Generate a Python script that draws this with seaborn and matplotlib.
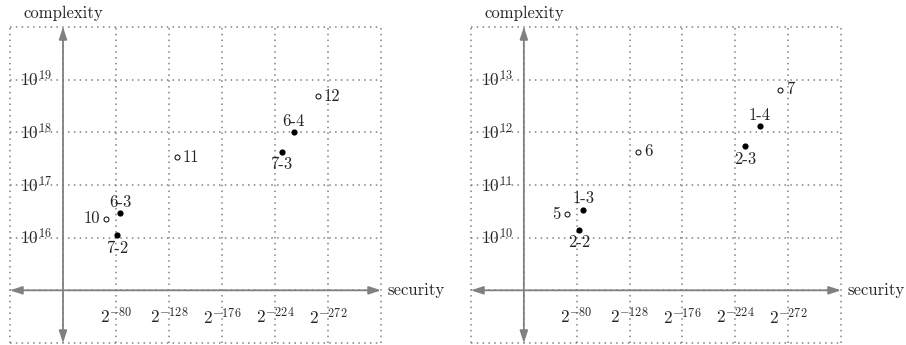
import matplotlib
matplotlib.use('Agg')
import matplotlib.pyplot as plt
import seaborn as sns

# security exponents (bits) and complexity for each panel
left_filled_labels = ['6-3', '7-2', '7-3', '6-4']
left_filled_sec = [84, 81, 230, 241]
left_filled_cplx = [2.9e16, 1.1e16, 4.3e17, 1.0e18]
left_open_labels = ['10', '11', '12']
left_open_sec = [71, 135, 263]
left_open_cplx = [2.3e16, 3.4e17, 4.9e18]

right_filled_labels = ['1-3', '2-2', '2-3', '1-4']
right_filled_sec = [86, 82, 233, 246]
right_filled_cplx = [3.4e10, 1.4e10, 5.4e11, 1.3e12]
right_open_labels = ['5', '6', '7']
right_open_sec = [71, 136, 265]
right_open_cplx = [2.8e10, 4.3e11, 6.5e12]

sec_ticks = [80, 128, 176, 224, 272]
left_exps = [16, 17, 18, 19]
right_exps = [10, 11, 12, 13]

sns.set_theme(style='white')
plt.rcParams['font.family'] = ['cmr10', 'DejaVu Serif']
plt.rcParams['mathtext.fontset'] = 'cm'
plt.rcParams['axes.formatter.use_mathtext'] = True

GRAY = '#808080'
# where each point label sits relative to its marker
place = {
    '6-3': 'above', '7-2': 'below', '7-3': 'below', '6-4': 'above',
    '10': 'left', '11': 'right', '12': 'right',
    '1-3': 'above', '2-2': 'below', '2-3': 'below', '1-4': 'above',
    '5': 'left', '6': 'right', '7': 'right',
}
offsets = {'above': ((0, 8), 'center', 'center'),
           'below': ((0, -9), 'center', 'center'),
           'left': ((-4.3, 0), 'right', 'center'),
           'right': ((4.3, 0), 'left', 'center')}


def draw_panel(ax, exps, f_lab, f_sec, f_cplx, o_lab, o_sec, o_cplx):
    base = exps[0] - 1
    ylo, yhi = 10.0 ** (base - 1), 10.0 ** (base + 5)
    ax.set_yscale('log')
    ax.set_xlim(-16, 320)
    ax.set_ylim(ylo, yhi)
    ax.set_xticks(list(range(-16, 321, 48)))
    ax.set_yticks([10.0 ** e for e in range(base - 1, base + 6)])
    ax.minorticks_off()
    ax.tick_params(length=0, labelbottom=False, labelleft=False)
    ax.grid(True, color=GRAY, lw=1.1, linestyle=(0, (1, 2.8)))
    for ln in ax.get_xgridlines() + ax.get_ygridlines():
        ln.set_clip_on(False)
    for sp in ax.spines.values():
        sp.set_visible(False)

    arrow = dict(arrowstyle='<|-|>,head_length=0.6,head_width=0.2',
                 color=GRAY, lw=1.3, shrinkA=0, shrinkB=0)
    ax.annotate('', xy=(320, 10.0 ** base), xytext=(-16, 10.0 ** base),
                arrowprops=arrow, annotation_clip=False)
    ax.annotate('', xy=(32, yhi), xytext=(32, ylo),
                arrowprops=arrow, annotation_clip=False)

    sns.scatterplot(x=f_sec, y=f_cplx, ax=ax, color='black', s=20,
                    linewidth=0, zorder=5, clip_on=False)
    sns.scatterplot(x=o_sec, y=o_cplx, ax=ax, color='white', s=13,
                    edgecolor='black', linewidth=0.7, zorder=5, clip_on=False)

    for lab, x, y in zip(f_lab + o_lab, f_sec + o_sec, f_cplx + o_cplx):
        off, ha, va = offsets[place[lab]]
        ax.annotate(lab, (x, y), xytext=off, textcoords='offset points',
                    ha=ha, va=va, fontsize=12)

    for e in exps:
        ax.text(22, 10.0 ** e, '$10^{%d}$' % e, ha='right', va='center',
                fontsize=12.5)
    for s in sec_ticks:
        ax.text(s, 10.0 ** (base - 0.5), '$2^{-%d}$' % s, ha='center',
                va='center', fontsize=12.5)

    ax.annotate('complexity', (32, yhi), xytext=(0, 4.3),
                textcoords='offset points', ha='center', va='bottom',
                fontsize=12, annotation_clip=False)
    ax.annotate('security', (320, 10.0 ** base), xytext=(4.6, 0),
                textcoords='offset points', ha='left', va='center',
                fontsize=12, annotation_clip=False)


fig = plt.figure(figsize=(9.06, 3.45), dpi=100)
ax1 = fig.add_axes([10 / 906, 2 / 345, 371 / 906, 316 / 345])
ax2 = fig.add_axes([471 / 906, 2 / 345, 370 / 906, 316 / 345])
for a in (ax1, ax2):
    a.set_facecolor('white')

draw_panel(ax1, left_exps, left_filled_labels, left_filled_sec, left_filled_cplx,
           left_open_labels, left_open_sec, left_open_cplx)
draw_panel(ax2, right_exps, right_filled_labels, right_filled_sec, right_filled_cplx,
           right_open_labels, right_open_sec, right_open_cplx)

fig.savefig('out.png', dpi=100, facecolor='white')
